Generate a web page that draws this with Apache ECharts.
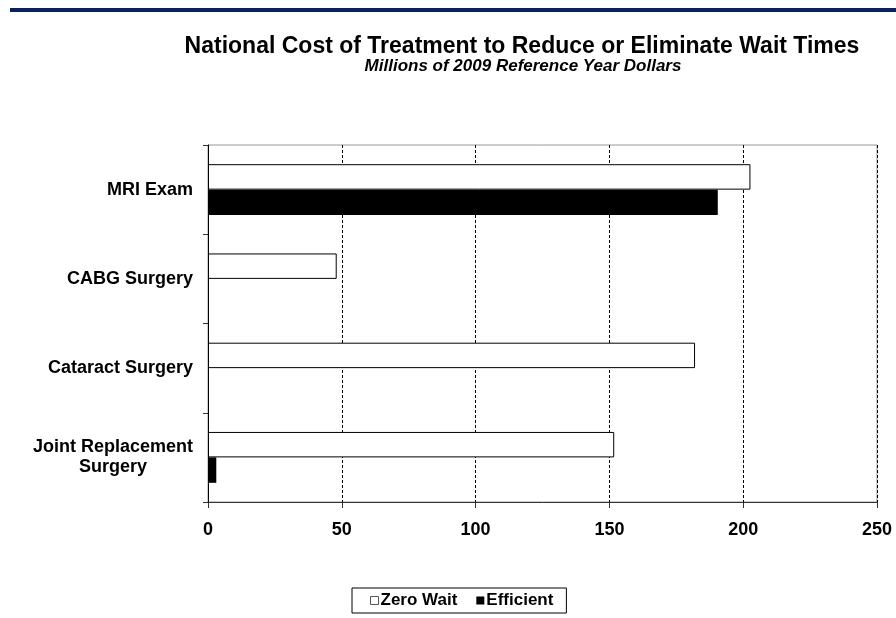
<!DOCTYPE html>
<html>
<head>
<meta charset="utf-8">
<script src="https://cdn.jsdelivr.net/npm/echarts@6/dist/echarts.min.js"></script>
<style>
  html, body { margin: 0; padding: 0; background: #fff; }
  #chart { width: 896px; height: 618px; }
</style>
</head>
<body>
<div id="chart"></div>
<script>
// Procedures, top to bottom
const categories = ['MRI Exam', 'CABG Surgery', 'Cataract Surgery', 'Joint Replacement Surgery'];
// Millions of 2009 reference-year dollars
const zeroWait = [202.7, 48.1, 182, 151.8];
const efficient = [190.5, 0, 0, 3.1];
const xTicks = [0, 50, 100, 150, 200, 250];

const FONT = '"Liberation Sans", Arial, sans-serif';
const chart = echarts.init(document.getElementById('chart'), null, { renderer: 'canvas' });

chart.setOption({
  backgroundColor: '#ffffff',
  animation: false,
  title: [
    {
      text: 'National Cost of Treatment to Reduce or Eliminate Wait Times',
      left: 517, top: 30, textAlign: 'center',
      textStyle: { fontFamily: FONT, fontWeight: 'bold', fontSize: 23, color: '#000' }
    },
    {
      text: 'Millions of 2009 Reference Year Dollars',
      left: 518, top: 53, textAlign: 'center',
      textStyle: { fontFamily: FONT, fontWeight: 'bold', fontStyle: 'italic', fontSize: 17, color: '#000' }
    }
  ],
  graphic: [
    { type: 'rect', shape: { x: 10, y: 8, width: 886, height: 4 }, style: { fill: '#0a2060' }, silent: true }
  ],
  legend: {
    data: [
      { name: 'Zero Wait', itemStyle: { color: '#fff', borderColor: '#555', borderWidth: 1 } },
      { name: 'Efficient' }
    ],
    left: 352, top: 588,
    padding: [4, 13, 4, 18],
    itemWidth: 8, itemHeight: 8, itemGap: 19,
    icon: 'rect',
    borderColor: '#000', borderWidth: 1,
    textStyle: { fontFamily: FONT, fontWeight: 'bold', fontSize: 17, color: '#000', padding: [0, 0, 0, -3] }
  },
  grid: {
    left: 208, right: 19, top: 145, bottom: 116,
    show: true, borderColor: '#999', borderWidth: 1
  },
  xAxis: {
    type: 'value',
    min: xTicks[0], max: xTicks[xTicks.length - 1], interval: 50,
    axisLine: { show: true, lineStyle: { color: '#333', width: 1 } },
    axisTick: { show: true, length: 6, lineStyle: { color: '#333' } },
    axisLabel: { margin: 19, fontFamily: FONT, fontWeight: 'bold', fontSize: 18, color: '#000' },
    splitLine: { show: true, lineStyle: { color: '#000', type: [3, 2], width: 1 } }
  },
  yAxis: {
    type: 'category',
    data: categories,
    inverse: true,
    axisLine: { show: true, lineStyle: { color: '#000', width: 1 } },
    axisTick: { show: true, length: 5, lineStyle: { color: '#333' } },
    axisLabel: {
      margin: 15,
      fontFamily: FONT, fontWeight: 'bold', fontSize: 18, color: '#000',
      lineHeight: 20,
      formatter: function (v) {
        if (v === 'Joint Replacement Surgery') {
          return '{a|Joint Replacement}\n{b|Surgery}';
        }
        return v;
      },
      rich: {
        a: { fontFamily: FONT, fontWeight: 'bold', fontSize: 18, color: '#000', lineHeight: 20 },
        b: { fontFamily: FONT, fontWeight: 'bold', fontSize: 18, color: '#000', lineHeight: 20, align: 'center' }
      }
    },
    splitLine: { show: false }
  },
  series: [
    {
      name: 'Zero Wait', type: 'bar', data: zeroWait,
      barGap: '0%', barCategoryGap: '43%',
      itemStyle: { color: '#ffffff', borderColor: '#000', borderWidth: 1 }
    },
    {
      name: 'Efficient', type: 'bar', data: efficient,
      barGap: '0%', barCategoryGap: '43%',
      itemStyle: { color: '#000000', borderColor: '#000', borderWidth: 0 }
    }
  ]
});
</script>
</body>
</html>
